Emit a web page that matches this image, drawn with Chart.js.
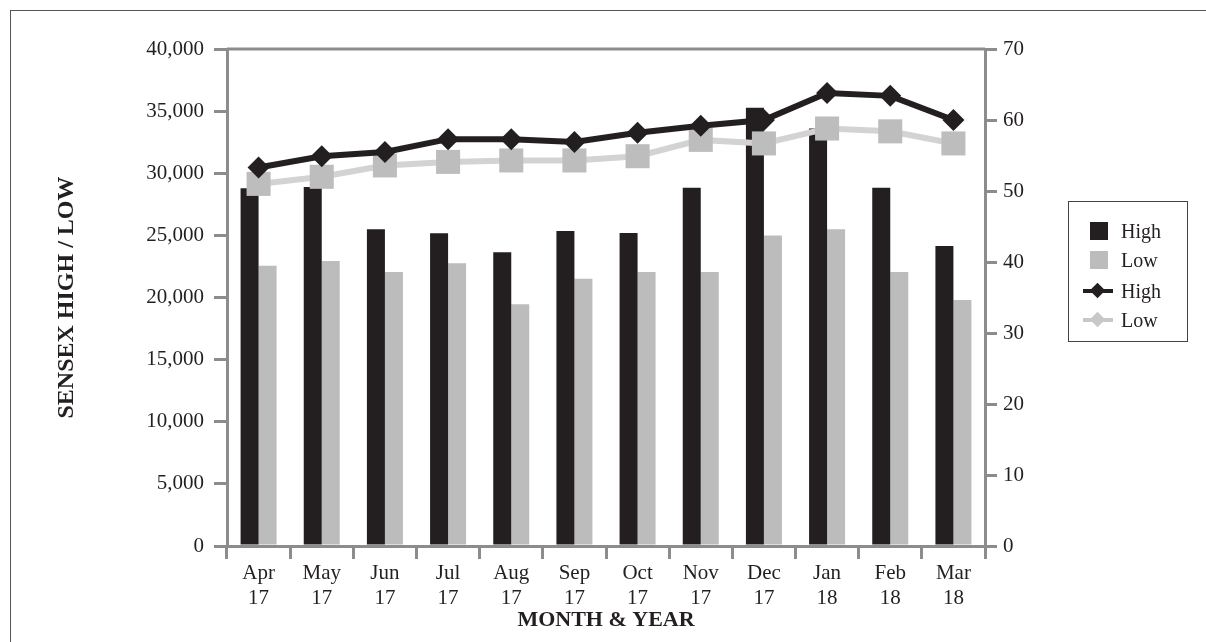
<!DOCTYPE html>
<html>
<head>
<meta charset="utf-8">
<script src="https://cdn.jsdelivr.net/npm/chart.js@4"></script>
<style>
    html, body { margin: 0; padding: 0; background: #fff; }
    .wrap { position: relative; width: 1206px; height: 642px; overflow: hidden; }
    .frame { position: absolute; left: 10px; top: 10px; width: 1300px; height: 700px; border-top: 1.5px solid #555; border-left: 1.5px solid #555; }
    .chart-box { position: absolute; left: 0; top: 0; width: 1206px; height: 642px; }
    .legend { position: absolute; left: 1068px; top: 201px; width: 118px; height: 139px; border: 1.5px solid #444; box-sizing: content-box; font-family: "Liberation Serif", serif; font-size: 20px; color: #231f20; }
    .legend-item { position: absolute; left: 0; height: 24px; display: flex; align-items: center; }
    .legend-item span { position: absolute; left: 52px; line-height: 24px; }
    .sw { position: absolute; left: 21px; width: 18px; height: 18px; }
    .ln { position: absolute; left: 14px; width: 30px; height: 4px; }
    .dm { position: absolute; left: 23px; width: 11px; height: 11px; transform: rotate(45deg); }
</style>
</head>
<body>
<div class="wrap">
    <div class="frame"></div>
    <div class="chart-box"><canvas id="sensexChart"></canvas></div>
    <div class="legend">
        <div class="legend-item" style="top:17px"><div class="sw" style="background:#231f20"></div><span>High</span></div>
        <div class="legend-item" style="top:46px"><div class="sw" style="background:#bcbcbc"></div><span>Low</span></div>
        <div class="legend-item" style="top:77px"><div class="ln" style="top:10px;background:#231f20"></div><div class="dm" style="top:6px;background:#231f20"></div><span>High</span></div>
        <div class="legend-item" style="top:106px"><div class="ln" style="top:10px;background:#c8c8c8"></div><div class="dm" style="top:6px;background:#c8c8c8"></div><span>Low</span></div>
    </div>
</div>
<script>
const months = ['Apr', 'May', 'Jun', 'Jul', 'Aug', 'Sep', 'Oct', 'Nov', 'Dec', 'Jan', 'Feb', 'Mar'];
const years = ['17', '17', '17', '17', '17', '17', '17', '17', '17', '18', '18', '18'];

// bars, left axis
const barHigh = [28800, 28900, 25500, 25170, 23640, 25350, 25200, 28840, 35280, 33600, 28840, 24140];
const barLow = [22560, 22940, 22050, 22750, 19450, 21500, 22050, 22050, 25000, 25500, 22050, 19800];

// lines, right axis
const lineHigh = [53.3, 54.9, 55.5, 57.3, 57.3, 56.9, 58.2, 59.2, 60.0, 63.8, 63.4, 60.0];
const lineLow = [51.0, 52.0, 53.6, 54.1, 54.3, 54.3, 54.9, 57.2, 56.7, 58.8, 58.4, 56.7];

const leftTicks = [0, 5000, 10000, 15000, 20000, 25000, 30000, 35000, 40000];
const rightTicks = [0, 10, 20, 30, 40, 50, 60, 70];

const ink = '#231f20';
const axisGray = '#8c8c8c';
const font = { family: '"Liberation Serif", serif', size: 21 };

// gray line along the top of the plot area
const topBorder = {
    id: 'topBorder',
    afterDatasetsDraw(chart) {
        const { ctx, chartArea } = chart;
        ctx.save();
        ctx.strokeStyle = axisGray;
        ctx.lineWidth = 3;
        ctx.beginPath();
        ctx.moveTo(chartArea.left, chartArea.top);
        ctx.lineTo(chartArea.right, chartArea.top);
        ctx.stroke();
        ctx.restore();
    }
};

new Chart(document.getElementById('sensexChart'), {
    type: 'bar',
    data: {
        labels: months.map((m, i) => [m, years[i]]),
        datasets: [
            {
                type: 'line', label: 'High', data: lineHigh, yAxisID: 'y2', order: 0,
                borderColor: ink, borderWidth: 6, backgroundColor: ink,
                pointStyle: 'rectRot', pointRadius: 11, pointBorderWidth: 0, pointBackgroundColor: ink
            },
            {
                type: 'line', label: 'Low', data: lineLow, yAxisID: 'y2', order: 1,
                borderColor: '#d3d3d3', borderWidth: 6, backgroundColor: '#bdbdbd',
                pointStyle: 'rect', pointRadius: 17, pointBorderWidth: 0, pointBackgroundColor: '#bdbdbd'
            },
            {
                label: 'High', data: barHigh, yAxisID: 'y', order: 2,
                backgroundColor: ink, barPercentage: 1, categoryPercentage: 0.57
            },
            {
                label: 'Low', data: barLow, yAxisID: 'y', order: 3,
                backgroundColor: '#bcbcbc', barPercentage: 1, categoryPercentage: 0.57
            }
        ]
    },
    options: {
        responsive: true,
        maintainAspectRatio: false,
        animation: false,
        layout: { padding: { left: 50, right: 161, top: 49, bottom: 8 } },
        plugins: { legend: { display: false }, tooltip: { enabled: false } },
        scales: {
            x: {
                afterFit: s => { s.height = 88; },
                grid: { drawOnChartArea: false, drawTicks: true, tickLength: 13, color: axisGray, lineWidth: 3, offset: true },
                border: { color: axisGray, width: 3 },
                ticks: { color: ink, font: { ...font, lineHeight: 1.2 }, maxRotation: 0, padding: 2 },
                title: { display: true, text: 'MONTH & YEAR', color: ink, font: { family: font.family, size: 22, weight: 'bold' }, padding: { top: 0, bottom: 0 } }
            },
            y: {
                position: 'left',
                min: 0, max: 40000,
                afterFit: s => { s.width = 177; },
                afterBuildTicks: s => { s.ticks = leftTicks.map(v => ({ value: v })); },
                grid: { drawOnChartArea: false, tickLength: 13, color: axisGray, lineWidth: 3 },
                border: { color: axisGray, width: 3 },
                ticks: { color: ink, font, padding: 10, callback: v => v.toLocaleString('en-US') },
                title: { display: true, text: 'SENSEX HIGH / LOW', color: ink, font: { family: font.family, size: 24, weight: 'bold' }, padding: { top: 2, bottom: 0 } }
            },
            y2: {
                position: 'right',
                min: 0, max: 70,
                afterFit: s => { s.width = 60; },
                afterBuildTicks: s => { s.ticks = rightTicks.map(v => ({ value: v })); },
                grid: { drawOnChartArea: false, tickLength: 12, color: axisGray, lineWidth: 3 },
                border: { color: axisGray, width: 3 },
                ticks: { color: ink, font, padding: 6 }
            }
        }
    },
    plugins: [topBorder]
});
</script>
</body>
</html>
